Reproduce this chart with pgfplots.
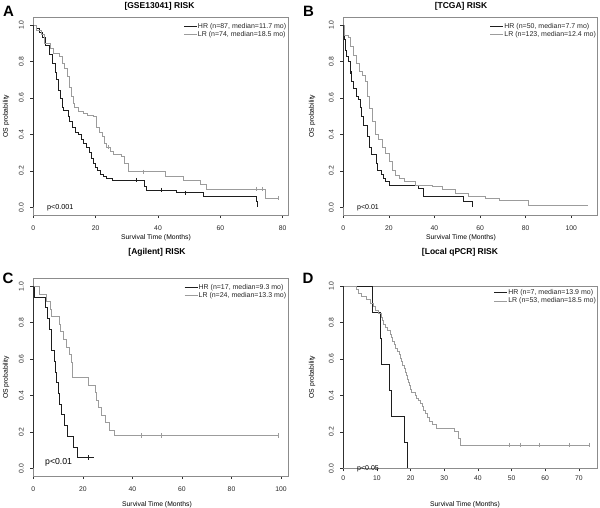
\documentclass[border=0pt]{standalone}
\usepackage{fontspec}
\setmainfont{Liberation Sans}
\usepackage{pgfplots}
\pgfplotsset{compat=1.18}
\definecolor{hr}{HTML}{1E1E1E}
\definecolor{lr}{HTML}{9C9C9C}
\definecolor{frm}{HTML}{8C8C8C}
\definecolor{axd}{HTML}{303030}
\pgfplotsset{
  kmaxis/.style={
    scale only axis, anchor=south west,
    ymin=-0.042, ymax=1.042,
    ytick={0,0.2,0.4,0.6,0.8,1},
    axis line style={frm, line width=0.6pt},
    tick style={axd, line width=0.5pt},
    tick align=outside, major tick length=3pt,
    tick pos=left,
    /pgf/number format/assume math mode=true,
    ticklabel style={font=\fontsize{6.8}{7}\selectfont, text=black!85},
    yticklabel style={rotate=90, anchor=south, /pgf/number format/.cd, fixed, fixed zerofill, precision=1},
    xticklabel shift=4pt, yticklabel shift=3pt,
    legend style={draw=none, fill=none, anchor=north east, inner sep=0pt,
      font=\fontsize{7}{8}\selectfont, text=black!85,
      nodes={inner sep=0.6pt, text height=5.4pt, text depth=1.5pt}},
    legend cell align=left,
    legend image code/.code={\draw[##1] (0pt,0pt) -- (13pt,0pt);},
    clip=false,
  },
  hrline/.style={const plot, no marks, color=hr, line width=0.75pt},
  lrline/.style={const plot, no marks, color=lr, line width=0.75pt},
  hrcens/.style={only marks, mark=|, mark size=2.2pt, color=hr, mark options={line width=0.5pt}, forget plot},
  lrcens/.style={only marks, mark=|, mark size=2.2pt, color=lr, mark options={line width=0.5pt}, forget plot},
}
\newcommand{\ttl}[1]{{\bfseries\fontsize{8.5}{9}\selectfont #1}}
\newcommand{\lbl}[1]{{\fontsize{6.8}{7}\selectfont #1}}
\newcommand{\pan}[1]{{\bfseries\fontsize{15}{15}\selectfont #1}}
\begin{document}
\begin{tikzpicture}[x=1pt,y=1pt]
\path[use as bounding box] (0,0) rectangle (600,507);

% ---------------- A ----------------
\begin{axis}[kmaxis, at={(33.3pt,292pt)}, width=254.7pt, height=197.7pt,
  xmin=0, xmax=81.7, xtick={0,20,40,60,80},
  legend style={at={(axis description cs:0.996,0.974)}}]
\addplot[hrline] coordinates {(0,1)(1,0.98)(2,0.96)(3,0.93)(4,0.89)(5,0.84)(6,0.79)(7,0.74)(7.5,0.70)(8,0.64)(8.7,0.60)(9.3,0.55)(9.8,0.53)(11.2,0.50)(11.7,0.47)(12.5,0.44)(13.5,0.41)(14.5,0.40)(15.5,0.37)(16.2,0.35)(17,0.33)(18,0.30)(18.7,0.27)(19.3,0.24)(19.8,0.22)(20.5,0.20)(21.5,0.18)(22.5,0.17)(23.5,0.16)(25.5,0.15)(35.7,0.115)(36.3,0.095)(46,0.08)(54.4,0.06)(71.6,0.035)(72,0)};
\addlegendentry{HR (n=87, median=11.7 mo)}
\addplot[lrline] coordinates {(0,1)(1,0.97)(2.5,0.95)(3.5,0.90)(5.5,0.87)(6.5,0.845)(8.3,0.83)(9.4,0.79)(10,0.76)(11,0.72)(11.7,0.66)(12.2,0.61)(12.8,0.57)(13.3,0.55)(14.3,0.525)(16,0.515)(17.5,0.506)(19.2,0.50)(20.2,0.44)(21.3,0.41)(22,0.39)(22.8,0.35)(23.6,0.33)(24.6,0.305)(25.6,0.29)(28.2,0.28)(29.3,0.24)(30.4,0.195)(42.5,0.17)(48,0.15)(53.5,0.125)(55.6,0.10)(74.3,0.05)(78.6,0.05)};
\addlegendentry{LR (n=74, median=18.5 mo)}
\addplot[hrcens] coordinates {(33.1,0.15)(41,0.095)(48.6,0.08)};
\addplot[lrcens] coordinates {(24,0.33)(35.3,0.195)(71.5,0.10)(73.4,0.10)(78.6,0.05)};
\draw[axd, line width=0.6pt] (axis cs:0,0) -- (axis cs:0,1);
\end{axis}

% ---------------- B ----------------
\begin{axis}[kmaxis, at={(343.3pt,292pt)}, width=254.4pt, height=197.7pt,
  xmin=0, xmax=111.6, xtick={0,20,40,60,80,100},
  legend style={at={(axis description cs:0.996,0.974)}}]
\addplot[hrline] coordinates {(0,1)(0.3,0.92)(0.8,0.86)(1.3,0.83)(2.2,0.80)(2.9,0.745)(3.6,0.69)(4.4,0.65)(5.8,0.61)(6.6,0.59)(7.3,0.55)(8,0.50)(8.8,0.45)(10.6,0.39)(11.5,0.33)(12.3,0.29)(14.3,0.24)(15.1,0.205)(16.5,0.18)(17.4,0.16)(18.5,0.14)(20,0.12)(32.8,0.105)(35,0.06)(52.8,0.03)(56.6,0)};
\addlegendentry{HR (n=50, median=7.7 mo)}
\addplot[lrline] coordinates {(0,1)(0.6,0.945)(2.2,0.93)(2.9,0.88)(4.2,0.835)(5.6,0.79)(7,0.745)(8.5,0.726)(9.9,0.69)(10.7,0.61)(11.4,0.54)(12.6,0.47)(14,0.40)(15.5,0.37)(17,0.33)(18.5,0.296)(20,0.25)(21.5,0.205)(23,0.177)(24.5,0.16)(27,0.14)(31.5,0.122)(39,0.113)(43.5,0.10)(49,0.077)(55,0.058)(62.5,0.05)(68.5,0.04)(81,0.013)(107.3,0.013)};
\addlegendentry{LR (n=123, median=12.4 mo)}
\addplot[hrcens] coordinates {(3.2,0.745)};
\draw[axd, line width=0.6pt] (axis cs:0,0) -- (axis cs:0,1);
\end{axis}

% ---------------- C ----------------
\begin{axis}[kmaxis, at={(33.3pt,31pt)}, width=254.7pt, height=197.3pt,
  xmin=0, xmax=102.8, xtick={0,20,40,60,80,100},
  legend style={at={(axis description cs:0.996,0.978)}}]
\addplot[hrline] coordinates {(0,1)(0.4,0.941)(5,0.882)(5.8,0.824)(6.4,0.765)(7.4,0.647)(8.7,0.588)(9,0.529)(9.4,0.471)(10,0.412)(10.7,0.353)(11.4,0.294)(12.7,0.235)(13.8,0.176)(16.3,0.118)(17.7,0.059)(24.5,0.059)};
\addlegendentry{HR (n=17, median=9.3 mo)}
\addplot[lrline] coordinates {(0,1)(2.4,0.958)(5.4,0.917)(6.7,0.875)(7.4,0.833)(10.4,0.792)(11.1,0.75)(12,0.708)(13.4,0.667)(14.5,0.625)(15.4,0.583)(15.8,0.5)(22.1,0.458)(25,0.417)(25.4,0.375)(26.1,0.333)(27.4,0.292)(29.2,0.25)(30.8,0.208)(32.8,0.18)(98.8,0.18)};
\addlegendentry{LR (n=24, median=13.3 mo)}
\addplot[hrcens] coordinates {(22,0.059)};
\addplot[lrcens] coordinates {(43.5,0.18)(51.8,0.18)(98.8,0.18)};
\draw[axd, line width=0.6pt] (axis cs:0,0) -- (axis cs:0,1);
\end{axis}

% ---------------- D ----------------
\begin{axis}[kmaxis, at={(343.3pt,38.7pt)}, width=254.4pt, height=182.3pt,
  ymin=0, ymax=1, xticklabel shift=0.5pt,
  xmin=0, xmax=75.6, xtick={0,10,20,30,40,50,60,70},
  legend style={at={(axis description cs:0.996,0.986)}}]
\addplot[hrline] coordinates {(0,1)(8.7,0.857)(10.9,0.714)(11.2,0.571)(13.8,0.429)(14.3,0.286)(18.1,0.143)(19.1,0)};
\addlegendentry{HR (n=7, median=13.9 mo)}
\addplot[lrline] coordinates {(0,1)(3.8,0.981)(4.5,0.962)(5.3,0.943)(7,0.925)(8,0.906)(8.8,0.887)(9.5,0.868)(10.5,0.849)(11.2,0.83)(11.6,0.811)(12,0.792)(12.6,0.774)(13.2,0.755)(14,0.736)(14.3,0.717)(14.7,0.698)(15.1,0.679)(15.6,0.66)(16.2,0.642)(16.6,0.623)(16.9,0.604)(17.2,0.585)(17.7,0.566)(18.1,0.547)(18.4,0.528)(18.8,0.509)(19.1,0.49)(19.3,0.472)(19.5,0.453)(19.8,0.434)(20.2,0.415)(21.3,0.40)(21.8,0.385)(22.4,0.37)(22.8,0.355)(23.5,0.34)(23.9,0.32)(24.3,0.30)(25,0.28)(25.6,0.26)(26.4,0.24)(27.6,0.22)(33,0.2)(34.1,0.165)(34.7,0.128)(73.2,0.128)};
\addlegendentry{LR (n=53, median=18.5 mo)}
\addplot[lrcens] coordinates {(49.2,0.128)(52.7,0.128)(58.2,0.128)(67.1,0.128)(73.2,0.128)};
\draw[axd, line width=0.6pt] (axis cs:0,0) -- (axis cs:0,1);
\end{axis}

% ---- titles, labels, panel letters, p-values ----
\node at (159.5,500.5) {\ttl{[GSE13041] RISK}};
\node at (461,500.5) {\ttl{[TCGA] RISK}};
\node at (157,255) {\ttl{[Agilent] RISK}};
\node at (460,255) {\ttl{[Local qPCR] RISK}};

\node at (156,269) {\lbl{Survival Time (Months)}};
\node at (461,269) {\lbl{Survival Time (Months)}};
\node at (157,2.5) {\lbl{Survival Time (Months)}};
\node at (465,2.5) {\lbl{Survival Time (Months)}};

\node[rotate=90] at (6,391) {\lbl{OS probability}};
\node[rotate=90] at (312,391) {\lbl{OS probability}};
\node[rotate=90] at (6,129.5) {\lbl{OS probability}};
\node[rotate=90] at (312,130) {\lbl{OS probability}};

\node at (8.5,496) {\pan{A}};
\node at (308.5,496) {\pan{B}};
\node at (8,229) {\pan{C}};
\node at (308,229) {\pan{D}};

\node[anchor=west, inner sep=0pt] at (47,299) {\fontsize{7.2}{8}\selectfont p<0.001};
\node[anchor=west, inner sep=0pt] at (357,299) {\fontsize{7}{8}\selectfont p<0.01};
\node[anchor=west, inner sep=0pt] at (45,45) {\fontsize{8.7}{9}\selectfont p<0.01};
\node[anchor=west, inner sep=0pt] at (357,38) {\fontsize{7}{8}\selectfont p<0.05};
\end{tikzpicture}
\end{document}
